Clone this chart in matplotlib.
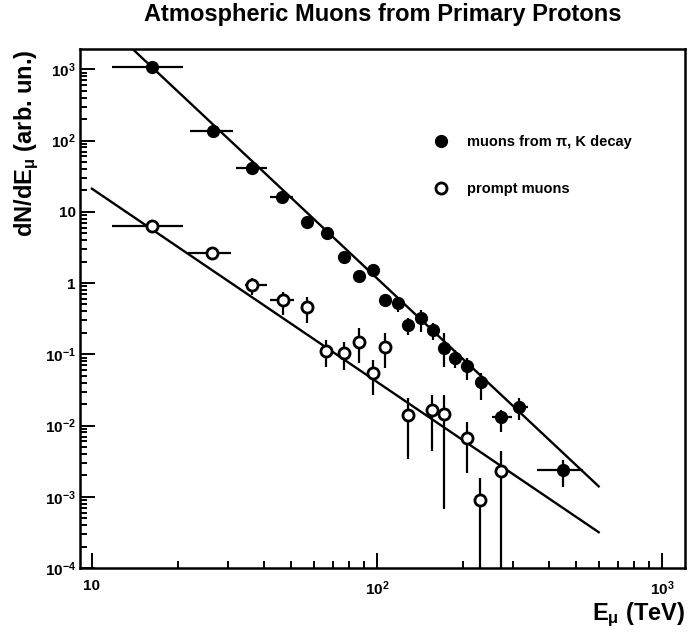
import numpy as np
import matplotlib
matplotlib.use("Agg")
import matplotlib.pyplot as plt
from matplotlib.lines import Line2D
from matplotlib.ticker import LogLocator, NullFormatter

plt.rcParams['font.family'] = ['Liberation Sans', 'DejaVu Sans']
plt.rcParams['font.weight'] = 'bold'
plt.rcParams['mathtext.fontset'] = 'custom'
plt.rcParams['mathtext.rm'] = 'Liberation Sans:bold'
plt.rcParams['mathtext.it'] = 'Liberation Sans:bold'
plt.rcParams['mathtext.bf'] = 'Liberation Sans:bold'

# muons from pi, K decay (filled)
pik_E = [16.2, 26.5, 36.5, 46.5, 56.9, 66.9, 76.6, 86.7, 96.6, 106.7, 118.8,
         128.8, 142.3, 156.8, 171.8, 187.8, 206.4, 231.7, 272.3, 314.9, 450.6]
pik_val = [1067, 137, 41.6, 16.0, 7.26, 4.99, 2.35, 1.25, 1.52, 0.578, 0.53,
           0.258, 0.32, 0.219, 0.121, 0.0877, 0.0684, 0.0412, 0.0130, 0.0184, 0.00237]
pik_lo = [1067, 137, 41.6, 16.0, 7.26, 4.99, 2.35, 1.25, 1.52, 0.578, 0.39,
          0.186, 0.207, 0.158, 0.0668, 0.0635, 0.0436, 0.0229, 0.00818, 0.0119, 0.00137]
pik_hi = [1067, 137, 41.6, 16.0, 7.26, 4.99, 2.35, 1.25, 1.52, 0.578, 0.53,
          0.323, 0.418, 0.272, 0.199, 0.115, 0.0877, 0.0546, 0.0165, 0.0241, 0.00328]
pik_Elo = [11.75, 22.1, 31.9, 42.1, 56.9, 66.9, 76.6, 86.7, 96.6, 106.7, 118.8,
           128.8, 142.3, 156.8, 171.8, 187.8, 206.4, 231.7, 252.7, 300.6, 363.4]
pik_Ehi = [20.9, 31.2, 41.0, 50.7, 56.9, 66.9, 76.6, 86.7, 96.6, 106.7, 118.8,
           128.8, 142.3, 156.8, 171.8, 187.8, 206.4, 231.7, 297.0, 339.6, 529.6]

# prompt muons (open)
pr_E = [16.2, 26.3, 36.3, 46.7, 56.7, 66.2, 76.6, 86.7, 97.1, 106.7,
        128.8, 156.3, 171.8, 206.4, 229.8, 272.3]
pr_val = [6.31, 2.61, 0.938, 0.578, 0.466, 0.112, 0.105, 0.150, 0.0551, 0.128,
          0.0140, 0.0165, 0.0145, 0.00675, 0.0009, 0.0023]
pr_lo = [6.31, 2.61, 0.679, 0.356, 0.272, 0.0668, 0.0601, 0.0746, 0.0268, 0.0641,
         0.00343, 0.0044, 0.00068, 0.00215, 1e-6, 1e-6]
pr_hi = [6.31, 2.61, 1.18, 0.755, 0.643, 0.159, 0.150, 0.231, 0.083, 0.199,
         0.0243, 0.0269, 0.0269, 0.0113, 0.00183, 0.0044]
pr_Elo = [11.73, 21.7, 34.4, 42.1, 56.7, 66.2, 76.6, 86.7, 97.1, 106.7,
          128.8, 156.3, 171.8, 206.4, 229.8, 272.3]
pr_Ehi = [20.8, 30.7, 41.0, 51.2, 56.7, 66.2, 76.6, 86.7, 97.1, 106.7,
          128.8, 156.3, 171.8, 206.4, 229.8, 272.3]

# power-law fit lines (end points)
fit_E = [10, 600]
fit_pik = [6620, 0.0014]
fit_pr = [21.1, 3.18e-4]

ytick_vals = [1e3, 1e2, 10, 1, 1e-1, 1e-2, 1e-3, 1e-4]
ytick_labels = [r'$10^{3}$', r'$10^{2}$', '10', '1', r'$10^{-1}$', r'$10^{-2}$',
                r'$10^{-3}$', r'$10^{-4}$']
xtick_vals = [10, 100, 1000]
xtick_labels = ['10', r'$10^{2}$', r'$10^{3}$']


def err(v, lo, hi):
    v, lo, hi = np.array(v), np.array(lo), np.array(hi)
    return [v - lo, hi - v]


fig = plt.figure(figsize=(6.88, 6.36), dpi=100)
ax = fig.add_axes([80 / 688, 68 / 636, 605 / 688, 519 / 636])

ax.plot(fit_E, fit_pik, color='black', lw=1.7)
ax.plot(fit_E, fit_pr, color='black', lw=1.7)

ax.errorbar(pik_E, pik_val, yerr=err(pik_val, pik_lo, pik_hi),
            xerr=err(pik_E, pik_Elo, pik_Ehi), fmt='o', color='black',
            ms=8.5, elinewidth=1.6, capsize=0)
ax.errorbar(pr_E, pr_val, yerr=err(pr_val, pr_lo, pr_hi),
            xerr=err(pr_E, pr_Elo, pr_Ehi), fmt='o', color='black',
            mfc='white', mec='black', mew=2, ms=8, elinewidth=1.6, capsize=0)

ax.set_xscale('log')
ax.set_yscale('log')
ax.set_xlim(9.08, 1205)
ax.set_ylim(1e-4, 1930)

ax.set_xticks(xtick_vals)
ax.set_xticklabels(xtick_labels)
ax.set_yticks(ytick_vals)
ax.set_yticklabels(ytick_labels)
ax.xaxis.set_minor_locator(LogLocator(base=10, subs=np.arange(2, 10)))
ax.yaxis.set_minor_locator(LogLocator(base=10, subs=np.arange(2, 10)))
ax.xaxis.set_minor_formatter(NullFormatter())
ax.yaxis.set_minor_formatter(NullFormatter())
ax.tick_params(which='both', direction='in', top=False, right=False, width=1.4)
ax.tick_params(which='major', length=11)
ax.tick_params(which='minor', length=5)
ax.tick_params(axis='y', which='major', labelsize=11, pad=3)
ax.tick_params(axis='x', which='major', labelsize=11, pad=8)
for s in ax.spines.values():
    s.set_linewidth(1.8)

handles = [Line2D([], [], marker='o', ls='none', color='black', ms=8.5),
           Line2D([], [], marker='o', ls='none', mfc='white', mec='black', mew=2, ms=8)]
ax.legend(handles, ['muons from \u03c0, K decay', 'prompt muons'],
          loc='upper left', bbox_to_anchor=(0.585, 0.835), frameon=False,
          fontsize=10.5, handlelength=1.0, handletextpad=1.3, labelspacing=2.3,
          borderaxespad=0, borderpad=0)

fig.text(383 / 688, 1 - 15 / 636, 'Atmospheric Muons from Primary Protons',
         ha='center', va='center', fontsize=17, fontweight='bold')
fig.text(27 / 688, 1 - 143 / 636, r'dN/dE$_{\mu}$ (arb. un.)', rotation=90,
         ha='center', va='center', fontsize=17, fontweight='bold')
fig.text(685 / 688, 1 - 615 / 636, r'E$_{\mu}$ (TeV)', ha='right', va='center',
         fontsize=17, fontweight='bold')

fig.savefig('out.png', dpi=100, facecolor='white')
